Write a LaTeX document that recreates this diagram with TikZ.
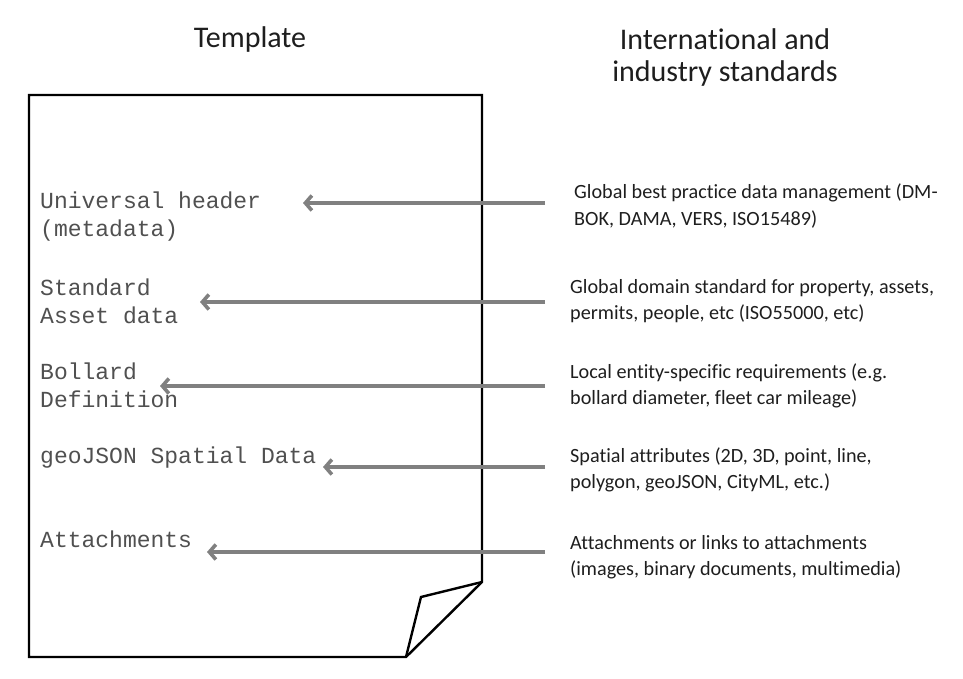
\documentclass[tikz,border=0pt]{standalone}
\usepackage{fontspec}
\setmainfont{Carlito}[Ligatures={NoCommon}]
\newfontfamily\codefont{Liberation Mono}
\usetikzlibrary{arrows.meta}
\definecolor{arrgray}{RGB}{128,128,128}
\definecolor{txtdark}{RGB}{30,30,30}
\definecolor{codegray}{RGB}{80,80,80}
\tikzset{
  pageline/.style={line width=2.4pt, line join=miter, draw=black},
  titletext/.style={font=\fontsize{30}{32.5}\selectfont, text=txtdark, align=center, inner sep=0pt},
  lefttext/.style={font=\codefont\fontsize{23}{27.5}\selectfont, text=codegray, align=left, inner sep=0pt, anchor=base west},
  righttext/.style={font=\fontsize{20.2}{26}\selectfont, text=txtdark, align=left, inner sep=0pt, anchor=base west},
  feed/.style={line width=3.6pt, draw=arrgray, -{Straight Barb[length=6.5pt,width=15pt]}}
}
\begin{document}
\begin{tikzpicture}[x=1pt,y=-1pt]
\useasboundingbox (0,0) rectangle (963,679);
% titles (base anchor = baseline of last line)
\node[titletext, anchor=base] (ttpl) at (250,48) {Template};
\node[titletext, anchor=base] (tstd) at (725,82) {International and\\industry standards};
% page
\draw[pageline] (29,95) -- (482,95) -- (482,582) -- (406,657) -- (29,657) -- cycle;
\draw[pageline] (482,582) -- (421,597) -- (406,657);
% left texts
\node[lefttext] (l1) at (40,236) {Universal header\\(metadata)};
\node[lefttext] (l2) at (40,323) {Standard\\Asset data};
\node[lefttext] (l3) at (40,407) {Bollard\\Definition};
\node[lefttext] (l4) at (40,463) {geoJSON Spatial Data};
\node[lefttext] (l5) at (40,547) {Attachments};
% right texts
\node[righttext] (r1) at (574,225) {Global best practice data management (DM-\\BOK, DAMA, VERS, ISO15489)};
\node[righttext] (r2) at (570,319) {Global domain standard for property, assets,\\permits, people, etc (ISO55000, etc)};
\node[righttext] (r3) at (570,404) {Local entity-specific requirements (e.g.\\bollard diameter, fleet car mileage)};
\node[righttext] (r4) at (570,488) {Spatial attributes (2D, 3D, point, line,\\polygon, geoJSON, CityML, etc.)};
\node[righttext] (r5) at (570,575) {Attachments or links to attachments\\(images, binary documents, multimedia)};
% arrow ends
\coordinate (e1) at (303,203);
\coordinate (e2) at (200,302);
\coordinate (e3) at (160,386);
\coordinate (e4) at (323,467);
\coordinate (e5) at (207,552);
\draw[feed] (545,203) -- (e1);
\draw[feed] (545,302) -- (e2);
\draw[feed] (545,386) -- (e3);
\draw[feed] (545,467) -- (e4);
\draw[feed] (545,552) -- (e5);
\end{tikzpicture}
\end{document}
